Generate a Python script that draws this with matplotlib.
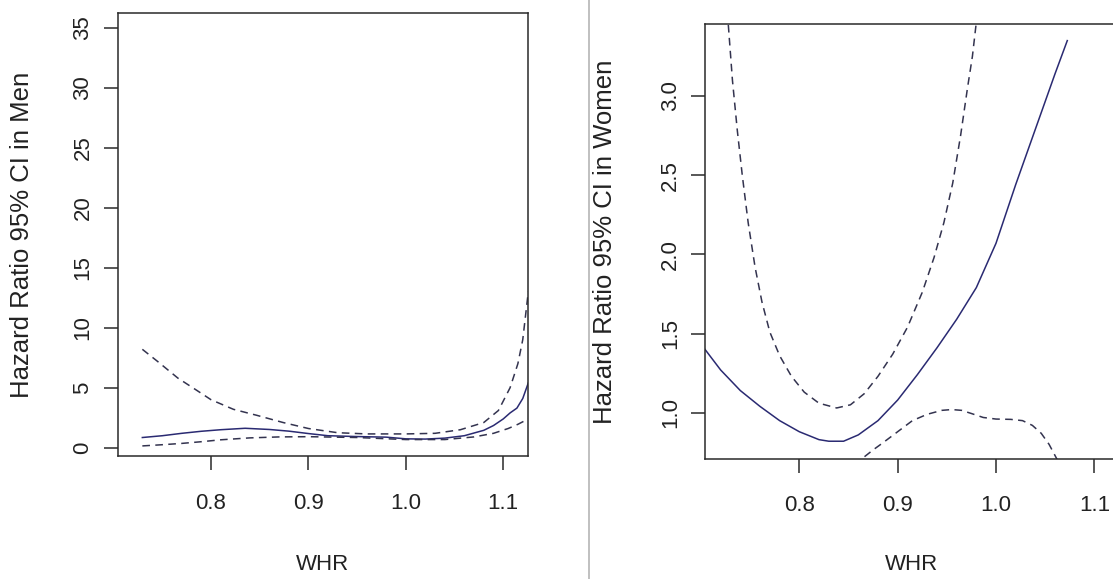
import matplotlib
matplotlib.use("Agg")
import matplotlib.pyplot as plt
from matplotlib.lines import Line2D

plt.rcParams['font.family'] = ['Liberation Sans', 'DejaVu Sans']

# ---------------- data ----------------
men_x = [0.7295, 0.75, 0.77, 0.79, 0.81, 0.835, 0.86, 0.88, 0.90, 0.92, 0.95, 0.98,
         1.00, 1.02, 1.04, 1.06, 1.08, 1.09, 1.10, 1.107, 1.114, 1.12, 1.1257]
men_hr = [0.85, 1.0, 1.2, 1.37, 1.5, 1.62, 1.52, 1.38, 1.18, 1.0, 0.93, 0.88,
          0.74, 0.72, 0.8, 1.0, 1.45, 1.85, 2.4, 2.9, 3.3, 4.1, 5.4]

men_up_x = [0.7295, 0.745, 0.766, 0.785, 0.80, 0.823, 0.847, 0.874, 0.90, 0.93,
            0.96, 1.00, 1.03, 1.056, 1.08, 1.095, 1.107, 1.115, 1.12, 1.1257]
men_up = [8.2, 7.2, 5.8, 4.8, 4.0, 3.2, 2.7, 2.1, 1.6, 1.25,
          1.15, 1.15, 1.2, 1.5, 2.1, 3.1, 5.0, 7.0, 9.0, 13.0]

men_lo_x = [0.7295, 0.75, 0.77, 0.79, 0.81, 0.84, 0.87, 0.90, 0.95, 1.00,
            1.04, 1.07, 1.09, 1.105, 1.115, 1.1257]
men_lo = [0.15, 0.25, 0.36, 0.5, 0.66, 0.82, 0.9, 0.92, 0.85, 0.68,
          0.68, 0.9, 1.2, 1.6, 1.95, 2.4]

women_x = [0.7041, 0.72, 0.74, 0.76, 0.78, 0.80, 0.82, 0.83, 0.845, 0.86, 0.88,
           0.90, 0.92, 0.94, 0.96, 0.98, 1.00, 1.02, 1.04, 1.06, 1.0725]
women_hr = [1.40, 1.27, 1.14, 1.04, 0.95, 0.88, 0.83, 0.82, 0.82, 0.86, 0.95,
            1.08, 1.24, 1.41, 1.59, 1.79, 2.07, 2.44, 2.79, 3.14, 3.35]

women_up_x = [0.724, 0.7278, 0.732, 0.737, 0.742, 0.748, 0.755, 0.762, 0.77, 0.78,
              0.792, 0.805, 0.82, 0.838, 0.852, 0.866, 0.88, 0.895, 0.91, 0.925,
              0.937, 0.947, 0.956, 0.964, 0.971, 0.976, 0.9797, 0.983]
women_up = [3.8, 3.45, 3.1, 2.78, 2.5, 2.2, 1.92, 1.7, 1.51, 1.36,
            1.23, 1.13, 1.06, 1.03, 1.05, 1.12, 1.23, 1.37, 1.54, 1.76,
            1.98, 2.2, 2.45, 2.75, 3.05, 3.25, 3.45, 3.65]

women_lo_x = [0.855, 0.865, 0.875, 0.885, 0.9, 0.915, 0.93, 0.945, 0.955, 0.965,
              0.975, 0.987, 1.0, 1.015, 1.027, 1.037, 1.046, 1.054, 1.0617, 1.066]
women_lo = [0.68, 0.716, 0.765, 0.81, 0.88, 0.95, 0.99, 1.015, 1.02, 1.015,
            0.995, 0.97, 0.96, 0.958, 0.95, 0.92, 0.87, 0.8, 0.71, 0.66]

men_yticks = [0, 5, 10, 15, 20, 25, 30, 35]
women_yticks = [1.0, 1.5, 2.0, 2.5, 3.0]
xticks = [0.8, 0.9, 1.0, 1.1]

# ---------------- figure ----------------
W, H = 1113, 579
fig = plt.figure(figsize=(W / 100, H / 100), dpi=100)

solid_col = '#2a2a72'
dash_col = '#33334f'
spine_col = '#2a2a2a'
text_col = '#222222'
fs = 16
fs_ylab = 18.5


def px_axes(x0, x1, ytop, ybot):
    return fig.add_axes([x0 / W, 1 - ybot / H, (x1 - x0) / W, (ybot - ytop) / H])


def style(ax, yticks, ylabels):
    for s in ax.spines.values():
        s.set_linewidth(1.1)
        s.set_color(spine_col)
    ax.set_xticks(xticks)
    ax.set_xticklabels([f"{v:.1f}" for v in xticks])
    ax.set_yticks(yticks)
    ax.set_yticklabels(ylabels)
    ax.tick_params(axis='both', direction='out', length=10.4, width=1.1,
                   color=spine_col, labelsize=fs, labelcolor=text_col)
    ax.tick_params(axis='x', pad=16)
    ax.tick_params(axis='y', pad=7, labelrotation=90)
    for lab in ax.get_yticklabels():
        lab.set_va('center')


# left panel (men)
ax1 = px_axes(117.7, 528.3, 12.7, 456)
ax1.plot(men_x, men_hr, color=solid_col, lw=1.1, solid_joinstyle='round')
ax1.plot(men_up_x, men_up, color=dash_col, lw=1.1, dashes=(5, 3.5))
ax1.plot(men_lo_x, men_lo, color=dash_col, lw=1.1, dashes=(5, 3.5))
ax1.set_xlim(0.7042, 1.1257)
ax1.set_ylim(-0.69, 36.25)
style(ax1, men_yticks, [str(v) for v in men_yticks])

# right panel (women)
ax2 = px_axes(705, 1120, 24.3, 458.8)
ax2.plot(women_x, women_hr, color=solid_col, lw=1.1, solid_joinstyle='round')
ax2.plot(women_up_x, women_up, color=dash_col, lw=1.1, dashes=(5, 3.5))
ax2.plot(women_lo_x, women_lo, color=dash_col, lw=1.1, dashes=(5, 3.5))
ax2.set_xlim(0.7041, 1.1261)
ax2.set_ylim(0.709, 3.453)
style(ax2, women_yticks, [f"{v:.1f}" for v in women_yticks])

# axis titles
fig.text(323 / W, 1 - 565 / H, "WHR", ha='center', va='center', fontsize=fs, color=text_col)
fig.text(912 / W, 1 - 565 / H, "WHR", ha='center', va='center', fontsize=fs, color=text_col)
fig.text(22 / W, 1 - 235 / H, "Hazard Ratio 95% CI in Men", rotation=90,
         ha='center', va='center', fontsize=fs_ylab, color=text_col)
fig.text(605 / W, 1 - 241.5 / H, "Hazard Ratio 95% CI in Women", rotation=90,
         ha='center', va='center', fontsize=fs_ylab, color=text_col)

# divider between panels
fig.add_artist(Line2D([589.3 / W, 589.3 / W], [0, 1], color='#b5b5b5', lw=1.2))

fig.savefig("out.png", dpi=100)
